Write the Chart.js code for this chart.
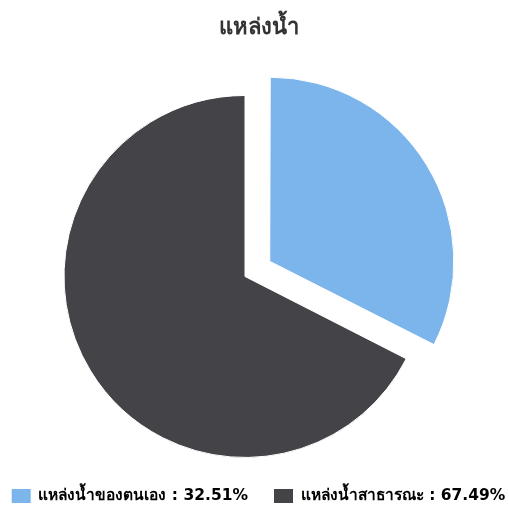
<!DOCTYPE html>
<html>
<head>
<meta charset="utf-8">
<script src="https://cdn.jsdelivr.net/npm/chart.js@4"></script>
<style>
  body { margin: 0; background: #fff; }
  #wrap { width: 509px; height: 506px; }
</style>
</head>
<body>
<div id="wrap"><canvas id="waterChart"></canvas></div>
<script>
var chartTitle = 'แหล่งน้ำ';
var categories = ['แหล่งน้ำของตนเอง', 'แหล่งน้ำสาธารณะ'];
var values = [32.51, 67.49];
var colors = ['#7cb5ec', '#434348'];
var sliced = [116, 0]; // blue slice pulled out

var fontFamily = "Tahoma, 'DejaVu Sans', sans-serif";

var ctx = document.getElementById('waterChart').getContext('2d');
new Chart(ctx, {
  type: 'pie',
  data: {
    labels: categories,
    datasets: [{
      data: values,
      backgroundColor: colors,
      borderColor: '#ffffff',
      borderWidth: 1,
      offset: sliced,
      radius: 181
    }]
  },
  options: {
    responsive: true,
    maintainAspectRatio: false,
    animation: false,
    events: [],
    layout: {
      padding: { left: -20, right: -28, top: 0, bottom: -7.75 }
    },
    plugins: {
      title: {
        display: true,
        text: chartTitle,
        color: '#333333',
        font: { family: fontFamily, size: 22, weight: 'bold' },
        padding: { top: 14.8, bottom: 49.5 }
      },
      // empty box on the right so the pie sits left of centre
      subtitle: {
        display: true,
        position: 'right',
        text: '',
        font: { size: 10, lineHeight: '47px' },
        padding: 0
      },
      legend: {
        position: 'bottom',
        labels: {
          boxWidth: 19,
          boxHeight: 14,
          padding: 26,
          color: '#333333',
          font: { family: fontFamily, size: 15.5, weight: 'bold' },
          generateLabels: function () {
            return categories.map(function (name, i) {
              return {
                text: name + ' : ' + values[i].toFixed(2) + '%',
                fillStyle: colors[i],
                strokeStyle: colors[i],
                lineWidth: 0,
                hidden: false,
                index: i
              };
            });
          }
        }
      },
      tooltip: { enabled: false }
    }
  }
});
</script>
</body>
</html>
